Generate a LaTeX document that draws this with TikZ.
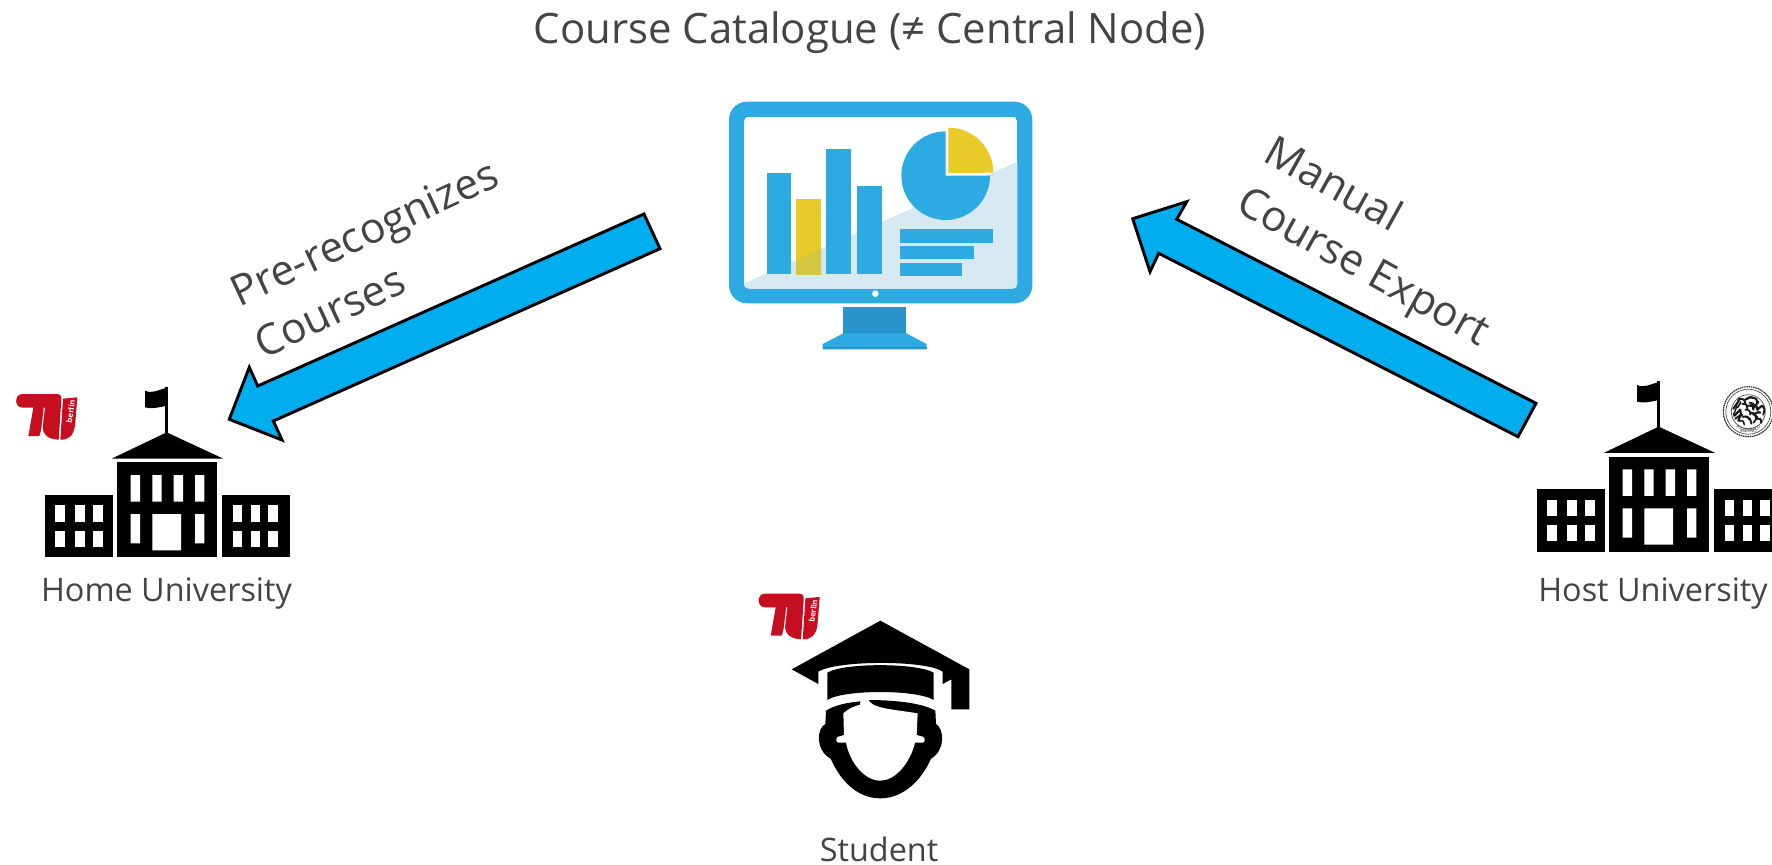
\documentclass[tikz,border=0pt]{standalone}
\usepackage{fontspec}
\setmainfont{Open Sans}
\usetikzlibrary{decorations.text}
\definecolor{txt}{HTML}{444444}
\definecolor{arrowblue}{HTML}{00AEEF}
\definecolor{monblue}{HTML}{2EAAE2}
\definecolor{standblue}{HTML}{2894CB}
\definecolor{panel}{HTML}{D6E8F2}
\definecolor{pieyellow}{HTML}{E8CA28}
\definecolor{lowyellow}{HTML}{D5C63F}
\definecolor{tured}{HTML}{C50E1F}
\tikzset{
  label text/.style={text=txt,font=\fontsize{24.3}{28}\selectfont,inner sep=0pt},
  title text/.style={text=txt,font=\fontsize{31.4}{36}\selectfont,inner sep=0pt},
  slanted text/.style={text=txt,font=\fontsize{31.8}{43}\selectfont,inner sep=0pt,align=left},
  block arrow/.style={draw=black,line width=2.2pt,fill=arrowblue,line join=miter,miter limit=6},
  zoomed/.style={x=0.25pt,y=-0.25pt},
}
\newcommand{\campus}[2]{%
\begin{scope}[shift={(#1,#2)},zoomed]
  \fill (350,277) rectangle (650,562);
  \fill (135,374) rectangle (338,562);
  \fill (667,374) rectangle (870,562);
  \fill (335,266) -- (500,187) -- (670,266) -- cycle;
  \fill (495,50) rectangle (505,190);
  \fill (435,62) .. controls (455,72) and (475,60) .. (497,54) -- (497,108) .. controls (475,112) and (455,118) .. (435,112) -- cycle;
  \fill[white] (392,315) rectangle (420,395) (457,315) rectangle (485,395) (521,315) rectangle (549,395) (585,315) rectangle (613,395);
  \fill[white] (392,432) rectangle (420,520) (585,432) rectangle (613,520) (457,432) rectangle (543,541);
  \foreach \wy in {406,482}{
    \foreach \wx in {166,226,280,698,752,805}{
      \fill[white] (\wx,\wy) rectangle ++(28,49);
    }
  }
\end{scope}}
\newcommand{\tulogo}[3]{%
\begin{scope}[shift={(#1,#2)},zoomed]
  \fill[tured] (68,72) -- (170,72) .. controls (180,72) and (185,78) .. (184,88) -- (176,209) .. controls (150,208) and (126,198) .. (128,165) -- (118,198) -- (85,198) -- (100,113) -- (68,113) .. controls (42,113) and (42,72) .. (68,72) -- cycle;
  \draw[white,line width=0.8pt] (133,113) -- (124,190);
  \fill[tured] (189,86) -- (232,82) -- (225,168) .. controls (220,198) and (205,210) .. (181,209) -- cycle;
  \node[#3,rotate=82,text=white,font=\bfseries\fontsize{5.8}{7}\selectfont,inner sep=0pt] at (212,124) {berlin};
\end{scope}}
\begin{document}
\begin{tikzpicture}[x=0.75pt,y=-0.75pt]
\useasboundingbox (0,0) rectangle (1772,864);
\clip (0,0) rectangle (1772,864);
\fill[white] (0,0) rectangle (1772,864);

\node[title text] (title) at (870,33) {Course Catalogue (≠ Central Node)};

% monitor
\begin{scope}[shift={(710,90)},zoomed]
  \fill[monblue,rounded corners=13.5pt] (57,35) rectangle (967,640);
  \begin{scope}
    \clip[rounded corners=3.5pt] (102,80) rectangle (922,596);
    \fill[white] (102,80) rectangle (922,596);
    \fill[panel] (102,580) -- (922,215) -- (922,596) -- (102,596) -- cycle;
  \end{scope}
  \fill[monblue] (170,250) rectangle (244,552);
  \fill[pieyellow] (259,327) rectangle (333,552);
  \begin{scope}
    \clip (259,327) rectangle (333,552);
    \fill[lowyellow] (102,580) -- (922,215) -- (922,596) -- (102,596) -- cycle;
  \end{scope}
  \fill[monblue] (349,178) rectangle (423,552);
  \fill[monblue] (442,288) rectangle (516,552);
  \fill[monblue] (707,257) -- (707,124) arc (-90:-360:133) -- cycle;
  \fill[pieyellow] (715,249) -- (715,113) arc (-90:0:135) -- cycle;
  \fill[monblue] (571,417) rectangle (850,458);
  \fill[monblue] (571,467) rectangle (791,508);
  \fill[monblue] (571,518) rectangle (755,559);
  \fill[white] (496,611) circle (10);
  \fill[standblue] (400,650) rectangle (589,732);
  \fill[monblue] (400,730) -- (589,730) -- (650,762) -- (650,778) -- (338,778) -- (338,762) -- cycle;
  \fill[standblue] (338,770) rectangle (650,778);
\end{scope}

% arrows
\coordinate (catHomeTip) at (229.3,419.3);
\draw[block arrow] (644,214) -- (660,248.7) -- (273.3,421) -- (282,440) -- (catHomeTip) -- (249.3,367.3) -- (257.7,386) -- cycle;
\coordinate (hostCatTip) at (1132.7,218.7);
\draw[block arrow] (1536,403.3) -- (1518,436.7) -- (1158.7,253.3) -- (1150,271.7) -- (hostCatTip) -- (1186.7,201.7) -- (1176.7,219.3) -- cycle;

\node[slanted text,rotate=25] (prerec) at (376,258) {Pre-recognizes\\Courses};
\node[slanted text,rotate=-29] (manual) at (1376,244) {Manual\\Course Export};

% home university
\campus{0}{370}
\tulogo{0}{370}{name=berlinA}
\node[label text] (home) at (166.5,593) {Home University};

% host university
\campus{1492}{364.3}
\node[label text] (host) at (1653,593) {Host University};

% seal
\begin{scope}[shift={(1748.3,411.7)}]
  \draw[line width=0.9pt,dash pattern=on 1.2pt off 0.5pt,black!80] (0,0) circle (25);
  \draw[line width=0.5pt,black!70] (0,0) circle (22.5);
  \draw[line width=0.5pt,black!70] (0,0) circle (17);
  \path[postaction={decorate},decoration={text along path,text align=center,text={|\fontsize{3.2}{4}\selectfont\color{black!80}|POLITECNICO}}] (-19,6) arc (162:18:20);
  \node[font=\fontsize{3.2}{4}\selectfont,text=black!80,inner sep=0pt] (milano) at (0,19.5) {MILANO};
  \foreach \a/\b/\c/\d/\w in {-15/-3/-9/-13/1.6,-9/-13/-3/-8/1.4,-14/4/-8/-2/1.8,-8/-2/-10/9/1.5,-10/9/-4/13/1.2,-3/-12/4/-14/1.7,4/-14/9/-8/1.5,3/-7/9/-2/1.8,9/-2/14/-6/1.6,14/-6/15/3/1.4,2/1/8/7/1.7,8/7/13/11/1.5,-3/-2/2/3/1.3,-3/5/3/12/1.3,-12/-8/-15/3/1,6/-4/1/-9/1.2,-6/-8/-1/-3/1.5,-13/7/-6/3/1.4,-6/5/1/8/1.4,5/3/12/1/1.6,9/5/5/11/1.3,-8/-10/-11/-4/1.2,0/-6/5/-2/1.5,10/-10/6/-5/1.3}{
    \draw[line width=\w pt,black!90,line cap=round] (\a,\b) .. controls ({(\a+\c)/2+2},{(\b+\d)/2-2}) .. (\c,\d);
  }
\end{scope}

% student
\tulogo{742.4}{569.6}{name=berlinB}
\begin{scope}[shift={(740,610)},zoomed]
  \fill (421,32) -- (688,178) -- (688,298) -- (634,298) -- (634,208) -- (608,222) -- (608,185) .. controls (560,150) and (290,150) .. (235,185) -- (235,222) -- (155,178) -- cycle;
  \fill (262,188) .. controls (310,158) and (530,158) .. (581,188) -- (581,270) .. controls (530,238) and (310,238) .. (262,270) -- cycle;
  \fill (258,302) .. controls (285,285) and (320,278) .. (362,274) -- (385,270) .. controls (440,270) and (540,275) .. (586,302) -- (588,342) .. controls (612,355) and (618,420) .. (573,446) .. controls (545,510) and (490,565) .. (421,565) .. controls (350,565) and (300,510) .. (272,446) .. controls (225,420) and (230,355) .. (256,342) -- cycle;
  \fill[white] (310,310) .. controls (325,295) and (345,288) .. (360,284) -- (362,268) -- (385,268) .. controls (392,295) and (460,298) .. (533,310) -- (530,375) -- (548,380) .. controls (556,382) and (556,398) .. (548,398) -- (525,398) .. controls (510,460) and (465,512) .. (421,512) .. controls (375,512) and (330,460) .. (318,398) -- (295,398) .. controls (287,398) and (287,380) .. (295,380) -- (312,375) -- cycle;
\end{scope}
\node[label text] (student) at (879,849) {Student};
\end{tikzpicture}
\end{document}
